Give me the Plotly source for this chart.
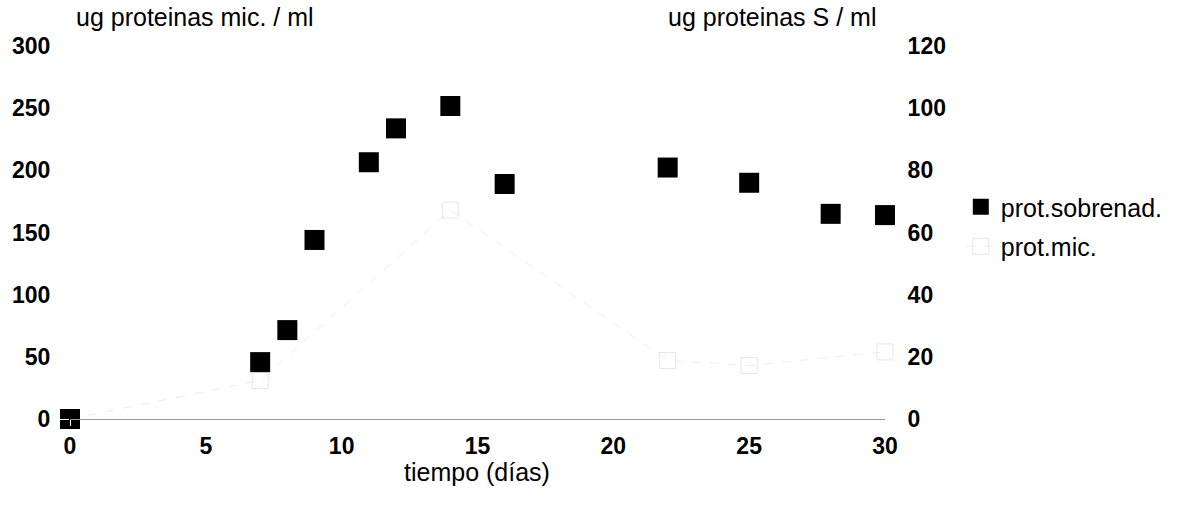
import plotly.graph_objects as go

# Data
dias_s = [0, 7, 8, 9, 11, 12, 14, 16, 22, 25, 28, 30]
prot_sobrenad = [0, 18.3, 28.6, 57.6, 82.6, 93.5, 100.7, 75.6, 80.9, 76.0, 66.0, 65.6]

dias_m = [0, 7, 14, 22, 25, 30]
prot_mic = [0, 31, 168, 47, 43, 54]

x_ticks = [0, 5, 10, 15, 20, 25, 30]
y_left_ticks = [0, 50, 100, 150, 200, 250, 300]
y_right_ticks = [0, 20, 40, 60, 80, 100, 120]

FONT = "Liberation Sans, Arial, sans-serif"

fig = go.Figure()

fig.add_trace(go.Scatter(
    x=dias_s, y=prot_sobrenad, name="prot.sobrenad.", yaxis="y2",
    mode="markers", cliponaxis=False, legendgroup="s",
    marker=dict(symbol="square", size=20, color="black"),
))
fig.add_trace(go.Scatter(
    x=dias_m, y=prot_mic, name="prot.mic.", yaxis="y",
    mode="lines+markers", cliponaxis=False, legendgroup="m",
    line=dict(color="#ededed", width=1, dash="dash"),
    marker=dict(symbol="square-open", size=16, color="#e6e6e6"),
))

tickfont = dict(family=FONT, size=23, color="black", weight="bold")
textfont = dict(family=FONT, size=25, color="black")

fig.update_layout(
    width=1183, height=509,
    margin=dict(l=68, r=298, t=46, b=90),
    paper_bgcolor="white", plot_bgcolor="white",
    font=dict(family=FONT, color="black"),
    xaxis=dict(
        range=[0, 30], tickvals=x_ticks, showgrid=False, zeroline=False,
        showline=True, linecolor="#9a9a9a", linewidth=1,
        ticks="outside", ticklen=6, tickcolor="white", tickfont=tickfont,
    ),
    yaxis=dict(
        range=[0, 300], tickvals=y_left_ticks, showgrid=False, zeroline=False,
        showline=False, ticks="outside", ticklen=14, tickcolor="white",
        tickfont=tickfont,
    ),
    yaxis2=dict(
        range=[0, 120], tickvals=y_right_ticks, overlaying="y", side="right",
        showgrid=False, zeroline=False, showline=False,
        ticks="outside", ticklen=17, tickcolor="white", tickfont=tickfont,
    ),
    legend=dict(
        x=1.093, y=0.63, xanchor="left", yanchor="top",
        font=textfont, bgcolor="rgba(0,0,0,0)", itemwidth=30,
        traceorder="grouped", tracegroupgap=4,
    ),
    showlegend=True,
    annotations=[
        dict(text="ug proteinas mic. / ml", xref="paper", yref="paper",
             x=(72 - 68) / 817, y=(419 - 17) / 373, xanchor="left", yanchor="middle",
             showarrow=False, font=textfont),
        dict(text="ug proteinas S / ml", xref="paper", yref="paper",
             x=(665 - 68) / 817, y=(419 - 17) / 373, xanchor="left", yanchor="middle",
             showarrow=False, font=textfont),
        dict(text="tiempo (días)", xref="paper", yref="paper",
             x=(476 - 68) / 817, y=(419 - 472) / 373, xanchor="center", yanchor="middle",
             showarrow=False, font=textfont),
    ],
)

fig.write_html("out.html")
